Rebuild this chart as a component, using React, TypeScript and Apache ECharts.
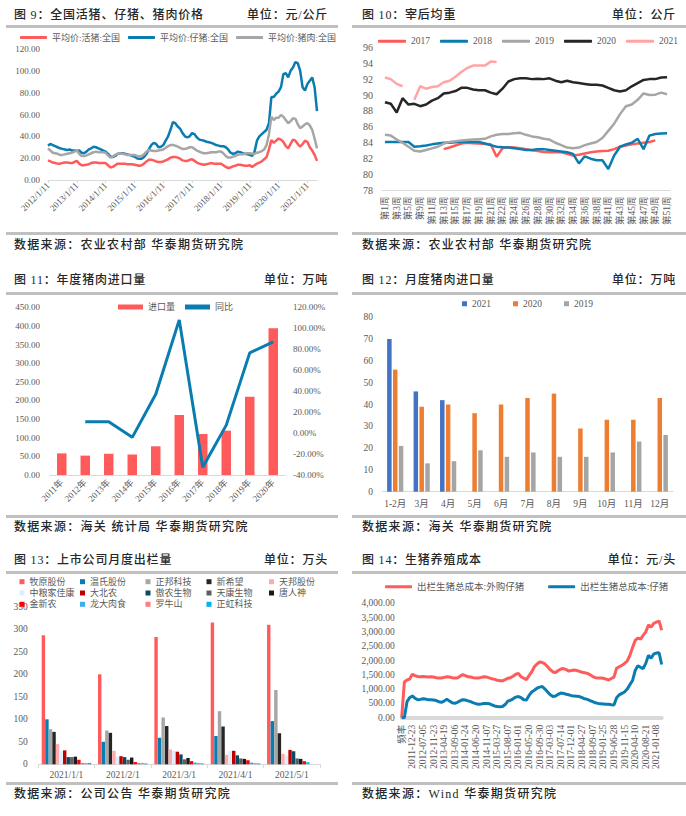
import React, { useEffect, useRef } from 'react';
import * as echarts from 'echarts';

const FONT = '"Liberation Serif", "Noto Sans CJK SC", serif';
const TXT = '#595959';
const AXLINE = '#D9D9D9';
const RED = '#FF5B5B';
const BLUE = '#0A7DB0';
const GRAY = '#A6A6A6';

// ---------- Fig 9 ----------
const PRICE_MONTHS: string[] = [];
for (let y = 2012; y <= 2021; y++) {
  for (let m = 1; m <= 12; m++) {
    if (y === 2021 && m > 5) break;
    PRICE_MONTHS.push(`${y}/${m}/11`);
  }
}
const LIVE_HOG = [
  18, 17, 16, 15.5, 15, 15, 15.5, 16, 16, 15.5, 15.5, 16.5,
  17.5, 15, 13.5, 13.5, 14, 14.5, 15.5, 16, 16, 15.5, 15.5, 15.5,
  15.5, 13.5, 11.5, 12, 13.5, 15, 15, 15, 15, 14.5, 14.5, 14.5,
  14, 13.5, 13, 13.5, 15, 17, 18.5, 18.5, 18, 17, 16.5, 16.5,
  17, 18, 19, 20.5, 21, 21, 20.5, 19.5, 18, 17.5, 17.5, 18.5,
  19, 17.5, 16, 15, 14.5, 14, 14.5, 15, 15.5, 15, 15, 15,
  15, 13.5, 12, 11, 11.5, 12.5, 13, 14, 14, 13.5, 13, 13,
  13.5, 12, 13.5, 15, 16, 17, 19, 21, 28, 36.5, 34, 36,
  38, 37, 35, 31, 29, 33, 37, 36, 33, 30.5, 33, 36,
  35, 30, 27, 23, 17.5,
];
const PIGLET = [
  31.5, 33, 32, 31, 30, 29, 28.5, 28, 27.5, 28, 27, 27,
  26.5, 27, 25, 24.5, 26, 28, 29, 30.5, 30, 29, 28, 27,
  26, 24, 21.5, 21, 22, 24, 24, 24.5, 24, 23.5, 23, 22,
  21.5, 20, 19.5, 19.5, 21, 24, 28, 32, 34, 33, 30, 30.5,
  32, 36, 40, 46, 53, 52, 49, 47, 43, 40, 39, 40,
  43, 42, 39, 37, 36.5, 36, 35, 34.5, 34, 33, 32, 31.5,
  31, 31, 30, 28, 25, 24, 24.5, 26, 25.5, 24.5, 24, 23.5,
  23, 22, 26, 36, 40, 42, 44, 46, 52, 76, 76, 79,
  81, 85, 97, 98, 94, 100, 103, 108, 107, 100, 85, 82,
  88, 91, 94, 85, 63,
];
const PORK = [
  29, 27, 25, 24.5, 24, 23, 23, 23.5, 24, 24.5, 25, 26,
  27.5, 24, 22, 22, 22.5, 23.5, 24.5, 25.5, 26, 25.5, 25.5, 25.5,
  25, 22.5, 20.5, 21.5, 23, 24, 24, 24, 23.5, 23, 23, 23,
  23, 22, 21.5, 22, 23.5, 26, 27.5, 27, 26.5, 26.5, 27, 27.5,
  28, 29.5, 31, 32, 32, 31.5, 30.5, 29.5, 28.5, 28.5, 29, 30,
  30, 28.5, 27, 26, 25, 24.5, 24.5, 25, 25.5, 25.5, 25.5, 26,
  26, 24.5, 22, 20.5, 20.5, 21.5, 22, 23, 23.5, 23.5, 24, 24.5,
  24.5, 24, 24, 25, 25.5, 26.5, 28, 32, 42, 58, 55, 57,
  57, 59.5, 58, 55, 52, 54, 56.5, 56, 51, 47.5, 49, 51,
  52, 50, 46, 38, 29,
];

// ---------- Fig 10 ----------
const WEEKS = [
  '第1周', '第2周', '第3周', '第4周', '第5周', '第8周', '第9周', '第10周', '第11周', '第12周',
  '第13周', '第14周', '第15周', '第16周', '第17周', '第18周', '第19周', '第20周', '第21周', '第21周',
  '第22周', '第23周', '第24周', '第25周', '第26周', '第27周', '第28周', '第29周', '第30周', '第31周',
  '第32周', '第33周', '第34周', '第35周', '第36周', '第37周', '第38周', '第40周', '第41周', '第42周',
  '第43周', '第44周', '第45周', '第46周', '第47周', '第48周', '第49周', '第50周', '第51周',
];
const W2017 = [
  null, null, null, null, null, null, null, null, null, null,
  83.2, 83.4, 83.65, 83.9, 84.0, 83.95, 83.9, 83.85, 83.8, 82.25,
  83.3, 83.45, 83.4, 83.3, 83.2, 83.05, 82.95, 82.85, 82.8, 82.8,
  82.8, 82.6, 82.4, 82.5, 82.65, 82.8, 82.9, 82.95, 83.0, 83.2,
  83.5, 83.65, 83.8, 83.9, 84.0, 84.1, 84.3, null, null,
];
const W2018 = [
  84.1, 84.1, 84.1, 84.1, 84.1, 83.5, 83.55, 83.65, 83.8, 83.9,
  84.0, 84.0, 84.05, 84.1, 84.1, 84.1, 84.1, 83.9, 83.7, 83.5,
  83.45, 83.4, 83.3, 83.2, 83.1, 83.1, 83.2, 83.2, 83.1, 83.0,
  82.9, 82.8, 82.6, 81.4, 82.3, 82.0, 81.8, 81.8, 80.7, 82.4,
  83.5, 83.8, 84.0, 84.5, 83.2, 84.9, 85.1, 85.15, 85.2,
];
const W2019 = [
  85.0, 84.9, 84.4, 84.0, 83.5, 83.0, 82.9, 83.1, 83.3, 83.5,
  83.9, 84.1, 84.2, 84.3, 84.35, 84.4, 84.45, 84.5, 84.8, 85.0,
  85.1, 85.1, 85.2, 85.25, 85.0, 84.8, 84.7, 84.5, 84.4, 84.0,
  83.7, 83.4, 83.3, 83.4, 83.7, 83.9, 84.1, 84.6, 85.5, 86.4,
  87.6, 88.6, 88.8, 89.4, 90.2, 90.0, 90.05, 90.3, 90.1,
];
const W2020 = [
  89.1, 88.9, 87.8, 89.6, 88.8, 88.9, 88.6, 88.8, 89.3, 89.6,
  90.2, 90.3, 90.5, 90.9, 90.9, 90.7, 90.6, 90.6, 90.3, 90.1,
  90.8, 91.7, 92.0, 92.1, 92.1, 92.0, 92.05, 92.0, 92.1, 91.8,
  91.6, 91.8, 91.6, 91.5, 91.4, 91.3, 91.3, 91.2, 90.9, 90.6,
  90.45, 90.6, 91.1, 91.5, 91.9, 92.0, 92.0, 92.2, 92.25,
];
const W2021 = [
  92.2, 92.0, 91.4, 91.1, null, 89.4, 91.1, 90.8, 91.0, 91.1,
  91.6, 91.8, 92.3, 92.9, 93.4, 93.7, 93.7, 93.7, 94.2, 94.15,
];

// ---------- Fig 11 ----------
const IMPORT_YEARS = ['2011年', '2012年', '2013年', '2014年', '2015年', '2016年', '2017年', '2018年', '2019年', '2020年'];
const IMPORT_VOLUME = [58, 52, 57, 55, 77, 161, 110, 119, 210, 394];
const IMPORT_YOY = [null, 10.8, 10.8, -4.1, 37, 108, -32.7, 7.6, 76.5, 87];

// ---------- Fig 12 ----------
const MONTHS = ['1-2月', '3月', '4月', '5月', '6月', '7月', '8月', '9月', '10月', '11月', '12月'];
const M2021 = [70, 46, 42, null, null, null, null, null, null, null, null];
const M2020 = [56, 39, 40, 36, 40, 43, 45, 29, 33, 33, 43];
const M2019 = [21, 13, 14, 19, 16, 18, 16, 16, 18, 23, 26];

// ---------- Fig 13 ----------
const SALE_MONTHS = ['2021/1/1', '2021/2/1', '2021/3/1', '2021/4/1', '2021/5/1'];
const COMPANIES = [
  '牧原股份', '温氏股份', '正邦科技', '新希望', '天邦股份',
  '中粮家佳康', '大北农', '傲农生物', '天康生物', '唐人神',
  '金新农', '龙大肉食', '罗牛山', '正虹科技',
];
const COMPANY_COLORS = [
  '#FF5B5B', '#0A7DB0', '#A6A6A6', '#262626', '#FFABAB',
  '#DDEFFA', '#C00000', '#0B4A60', '#5F5F5F', '#1A1A1A',
  '#FF0000', '#3BB0E8', '#FF7C80', '#00B0F0',
];
const SALES = [
  [287, 200, 283, 315, 310],
  [100, 50, 59, 63, 96],
  [78, 75, 104, 118, 165],
  [72, 70, 85, 84, 69],
  [45, 30, 33, 21, 23],
  [30, 17, 30, 30, 20],
  [31, 18, 28, 30, 32],
  [16, 16, 22, 20, 29],
  [16, 10, 11, 13, 13],
  [17, 15, 14, 12, 12],
  [10, 5, 7, 9, 7],
  [3, 3, 4, 4, 5],
  [3, 3, 3, 3, 0],
  [3, 2, 2, 2, 0],
];

// ---------- Fig 14 ----------
const COST_TICK_LABELS = [
  '频率', '2011-12-23', '2012-07-05', '2012-11-23', '2013-04-19', '2013-09-06', '2014-01-24',
  '2014-06-20', '2014-11-07', '2015-03-27', '2015-08-07', '2016-01-01', '2016-05-20',
  '2016-09-30', '2017-03-03', '2017-07-14', '2017-12-01', '2018-04-27', '2018-09-07',
  '2019-01-25', '2019-06-28', '2019-11-15', '2020-04-10', '2020-08-21', '2021-01-08',
];
const COST_OUTSIDE = [
  0, 1250, 1320, 1350, 1520, 1470, 1440, 1430, 1440, 1430,
  1420, 1430, 1420, 1400, 1390, 1390, 1410, 1430, 1420, 1400,
  1390, 1390, 1450, 1510, 1470, 1430, 1420, 1400, 1390, 1390,
  1410, 1430, 1420, 1390, 1360, 1340, 1310, 1290, 1290, 1330,
  1380, 1400, 1450, 1520, 1550, 1430, 1380, 1330, 1470, 1600,
  1780, 1880, 1950, 1930, 1880, 1780, 1680, 1600, 1580, 1650,
  1700, 1720, 1680, 1630, 1650, 1670, 1650, 1620, 1590, 1570,
  1550, 1500, 1440, 1400, 1390, 1390, 1380, 1350, 1320, 1370,
  1420, 1730, 1780, 1830, 1900, 1980, 2180, 2450, 2700, 2780,
  2750, 2880, 3000, 3240, 3170, 3300, 3340, 3380, 3060,
];
const COST_OWN = [
  0, 0, 560, 700, 760, 680, 630, 640, 660, 650,
  630, 630, 620, 600, 560, 540, 580, 650, 580, 520,
  500, 540, 590, 630, 620, 590, 560, 520, 490, 470,
  480, 500, 500, 490, 450, 410, 390, 380, 390, 460,
  580, 610, 660, 720, 740, 700, 630, 620, 780, 900,
  960, 1030, 1070, 1090, 1000, 900, 800, 740, 760, 820,
  860, 850, 820, 800, 770, 760, 750, 740, 700, 660,
  640, 600, 560, 520, 500, 490, 480, 470, 470, 450,
  440, 700, 800, 850, 900, 1000, 1150, 1300, 1650, 1820,
  1760, 1720, 1900, 2180, 2080, 2230, 2260, 2270, 1860,
];
const COST_CATS: string[] = [];
COST_TICK_LABELS.forEach((l, i) => {
  COST_CATS.push(l);
  if (i < COST_TICK_LABELS.length - 1) COST_CATS.push('', '', '');
});
COST_CATS.push('', '');

// ---------- helpers ----------
const axisText = (size = 9) => ({ fontSize: size, color: TXT, fontFamily: FONT });
const hiddenY = {
  axisLine: { show: false },
  axisTick: { show: false },
  splitLine: { show: false },
};
const lineSeries = (name: string, data: any[], color: string, width = 2.5) => ({
  name,
  type: 'line',
  data,
  symbol: 'none',
  lineStyle: { color, width },
  itemStyle: { color },
});

const opt9 = {
  animation: false,
  legend: {
    left: 20, top: 33, padding: 0, itemWidth: 27, itemHeight: 3, itemGap: 8, icon: 'roundRect',
    textStyle: axisText(9),
    data: ['平均价:活猪:全国', '平均价:仔猪:全国', '平均价:猪肉:全国'],
  },
  grid: { left: 48, top: 49, width: 269, height: 131 },
  xAxis: {
    type: 'category', data: PRICE_MONTHS, boundaryGap: false,
    axisLine: { lineStyle: { color: AXLINE } },
    axisTick: { interval: 11, length: 3, lineStyle: { color: AXLINE } },
    axisLabel: { interval: 11, rotate: 45, margin: 4, ...axisText(9) },
  },
  yAxis: {
    type: 'value', min: 0, max: 120, interval: 20, ...hiddenY,
    axisLabel: { ...axisText(9), margin: 8, formatter: (v: number) => v.toFixed(2) },
  },
  series: [
    lineSeries('平均价:活猪:全国', LIVE_HOG, RED),
    lineSeries('平均价:仔猪:全国', PIGLET, BLUE),
    lineSeries('平均价:猪肉:全国', PORK, GRAY),
  ],
};

const opt10 = {
  animation: false,
  legend: {
    left: 33, top: 36.5, padding: 0, itemWidth: 28, itemHeight: 3, itemGap: 10, icon: 'roundRect',
    textStyle: axisText(9.5),
    data: ['2017', '2018', '2019', '2020', '2021'],
  },
  grid: { left: 37, top: 47.3, width: 288, height: 145.4 },
  xAxis: {
    type: 'category', data: WEEKS,
    axisLine: { lineStyle: { color: AXLINE } },
    axisTick: { show: false },
    axisLabel: { interval: 1, rotate: 90, margin: 6, ...axisText(9.5) },
  },
  yAxis: {
    type: 'value', min: 78, max: 96, interval: 2, ...hiddenY,
    axisLabel: { ...axisText(10), margin: 9 },
  },
  series: [
    lineSeries('2017', W2017, '#FF5B5B'),
    lineSeries('2018', W2018, '#0A7DB0'),
    lineSeries('2019', W2019, '#A6A6A6'),
    lineSeries('2020', W2020, '#262626'),
    lineSeries('2021', W2021, '#FFA5A5'),
  ],
};

const opt11 = {
  animation: false,
  legend: {
    left: 118, top: 32.5, padding: 0, itemWidth: 25, itemHeight: 5, itemGap: 10, icon: 'rect',
    textStyle: axisText(9),
    data: ['进口量', '同比'],
  },
  grid: { left: 50, top: 37.3, width: 235, height: 167.7 },
  xAxis: {
    type: 'category', data: IMPORT_YEARS,
    axisLine: { lineStyle: { color: AXLINE } },
    axisTick: { show: false },
    axisLabel: { interval: 0, rotate: 45, margin: 6, ...axisText(9) },
  },
  yAxis: [
    {
      type: 'value', min: 0, max: 450, interval: 50, ...hiddenY,
      axisLabel: { ...axisText(9), margin: 10, formatter: (v: number) => v.toFixed(2) },
    },
    {
      type: 'value', min: -40, max: 120, interval: 20, position: 'right', ...hiddenY,
      axisLabel: { ...axisText(9), margin: 8, formatter: (v: number) => v.toFixed(2) + '%' },
    },
  ],
  series: [
    { name: '进口量', type: 'bar', data: IMPORT_VOLUME, barWidth: 9.5, itemStyle: { color: RED } },
    { ...lineSeries('同比', IMPORT_YOY, BLUE, 3), yAxisIndex: 1 },
  ],
};

const opt12 = {
  animation: false,
  legend: {
    left: 117, top: 29, padding: 0, itemWidth: 5, itemHeight: 5, itemGap: 22, icon: 'rect',
    textStyle: axisText(9.5),
    data: ['2021', '2020', '2019'],
  },
  grid: { left: 37, top: 47.3, width: 291, height: 174.4 },
  xAxis: {
    type: 'category', data: MONTHS,
    axisLine: { lineStyle: { color: AXLINE } },
    axisTick: { show: false },
    axisLabel: { interval: 0, margin: 8, ...axisText(9.5) },
  },
  yAxis: {
    type: 'value', min: 0, max: 80, interval: 10, ...hiddenY,
    axisLabel: { ...axisText(9.5), margin: 9 },
  },
  series: [
    { name: '2021', type: 'bar', data: M2021, barWidth: 4.5, barGap: '30%', itemStyle: { color: '#4472C4' } },
    { name: '2020', type: 'bar', data: M2020, barWidth: 4.5, barGap: '30%', itemStyle: { color: '#ED7D31' } },
    { name: '2019', type: 'bar', data: M2019, barWidth: 4.5, barGap: '30%', itemStyle: { color: '#A5A5A5' } },
  ],
};

const LEGEND_COLS = [[0, 5, 10], [1, 6, 11], [2, 7, 12], [3, 8, 13], [4, 9]];
const LEGEND_LEFTS = [19.5, 80, 145.5, 206.5, 269];
const opt13 = {
  animation: false,
  legend: LEGEND_COLS.map((col, k) => ({
    orient: 'vertical', left: LEGEND_LEFTS[k], top: 32.2, padding: 0,
    itemWidth: 5, itemHeight: 5, itemGap: 2.3, icon: 'rect',
    textStyle: axisText(9),
    data: col.map((i) => COMPANIES[i]),
  })),
  grid: { left: 38.3, top: 61.8, width: 281.7, height: 157.5 },
  xAxis: {
    type: 'category', data: SALE_MONTHS,
    axisLine: { lineStyle: { color: AXLINE } },
    axisTick: { show: true, length: 4, lineStyle: { color: AXLINE } },
    axisLabel: { interval: 0, margin: 6, ...axisText(9.5) },
  },
  yAxis: {
    type: 'value', min: 0, max: 350, interval: 50, ...hiddenY,
    axisLabel: { ...axisText(9.5), margin: 10.5 },
  },
  series: COMPANIES.map((name, i) => ({
    name, type: 'bar', data: SALES[i], barGap: '4%', barCategoryGap: '12%',
    itemStyle: { color: COMPANY_COLORS[i] },
  })),
};

const opt14 = {
  animation: false,
  legend: {
    left: 40, top: 37, padding: 0, itemWidth: 27, itemHeight: 3, itemGap: 24, icon: 'roundRect',
    textStyle: axisText(9.5),
    data: ['出栏生猪总成本:外购仔猪', '出栏生猪总成本:仔猪'],
  },
  grid: { left: 56.7, top: 58.3, width: 260, height: 114.4 },
  xAxis: {
    type: 'category', data: COST_CATS, boundaryGap: false,
    axisLine: { lineStyle: { color: AXLINE, width: 4 } },
    axisTick: { show: false },
    axisLabel: { interval: 3, rotate: 90, margin: 7, ...axisText(9.5) },
  },
  yAxis: {
    type: 'value', min: 0, max: 4000, interval: 500, ...hiddenY,
    axisLabel: {
      ...axisText(9.5), margin: 7,
      formatter: (v: number) => v.toLocaleString('en-US', { minimumFractionDigits: 2, maximumFractionDigits: 2 }),
    },
  },
  series: [
    lineSeries('出栏生猪总成本:外购仔猪', COST_OUTSIDE, RED, 3),
    lineSeries('出栏生猪总成本:仔猪', COST_OWN, BLUE, 3),
  ],
};

function Chart({ option, left, top, width, height }: any) {
  const ref = useRef<HTMLDivElement>(null);
  useEffect(() => {
    const c = echarts.init(ref.current as HTMLDivElement, null, { renderer: 'svg' });
    c.setOption(option);
    return () => c.dispose();
  }, []);
  return <div ref={ref} style={{ position: 'absolute', left, top, width, height }} />;
}

const HEAD_STYLE: React.CSSProperties = {
  position: 'absolute', fontFamily: FONT, fontSize: 12, fontWeight: 500, color: '#262626',
  lineHeight: '16px', whiteSpace: 'nowrap', letterSpacing: '0.8px',
};

function Panel({ x, y, lineL, lineR, title, unit, unitRight, footer, footY, footLineY, topLineY }: any) {
  return (
    <>
      <div style={{ ...HEAD_STYLE, left: x, top: y - 8 }}>{title}</div>
      <div style={{ ...HEAD_STYLE, right: 686 - unitRight, top: y - 8 }}>{unit}</div>
      <div style={{ position: 'absolute', left: lineL, width: lineR - lineL, top: topLineY - 1.5, height: 3, background: '#C0C0C0' }} />
      <div style={{ position: 'absolute', left: lineL, width: lineR - lineL, top: footLineY - 1.5, height: 3, background: '#C0C0C0' }} />
      <div style={{ ...HEAD_STYLE, left: x, top: footY - 8, letterSpacing: '1.3px' }}>{footer}</div>
    </>
  );
}

export default function App() {
  return (
    <div style={{ position: 'absolute', left: 0, top: 0, width: 686, height: 816, background: '#fff', overflow: 'hidden' }}>
      <Chart option={opt9} left={0} top={0} width={341} height={228} />
      <Chart option={opt10} left={345} top={0} width={341} height={228} />
      <Chart option={opt11} left={0} top={270} width={341} height={243} />
      <Chart option={opt12} left={345} top={270} width={341} height={243} />
      <Chart option={opt13} left={0} top={545} width={341} height={236} />
      <Chart option={opt14} left={345} top={545} width={341} height={236} />

      <Panel x={14} y={15} lineL={6} lineR={338} topLineY={26} footLineY={233} footY={245}
        title="图 9：全国活猪、仔猪、猪肉价格" unit="单位：元/公斤" unitRight={328}
        footer="数据来源：农业农村部 华泰期货研究院" />
      <Panel x={362} y={15} lineL={352} lineR={686} topLineY={26} footLineY={233} footY={245}
        title="图 10：宰后均重" unit="单位：公斤" unitRight={676}
        footer="数据来源：农业农村部 华泰期货研究院" />
      <Panel x={14} y={280} lineL={6} lineR={338} topLineY={293} footLineY={516} footY={527}
        title="图 11：年度猪肉进口量" unit="单位：万吨" unitRight={328}
        footer="数据来源：海关 统计局 华泰期货研究院" />
      <Panel x={362} y={280} lineL={352} lineR={686} topLineY={293} footLineY={516} footY={527}
        title="图 12：月度猪肉进口量" unit="单位：万吨" unitRight={676}
        footer="数据来源：海关 华泰期货研究院" />
      <Panel x={14} y={560} lineL={6} lineR={338} topLineY={572} footLineY={783.5} footY={794}
        title="图 13：上市公司月度出栏量" unit="单位：万头" unitRight={328}
        footer="数据来源：公司公告 华泰期货研究院" />
      <Panel x={362} y={560} lineL={352} lineR={686} topLineY={572} footLineY={783.5} footY={794}
        title="图 14：生猪养殖成本" unit="单位：元/头" unitRight={676}
        footer="数据来源：Wind 华泰期货研究院" />
    </div>
  );
}
